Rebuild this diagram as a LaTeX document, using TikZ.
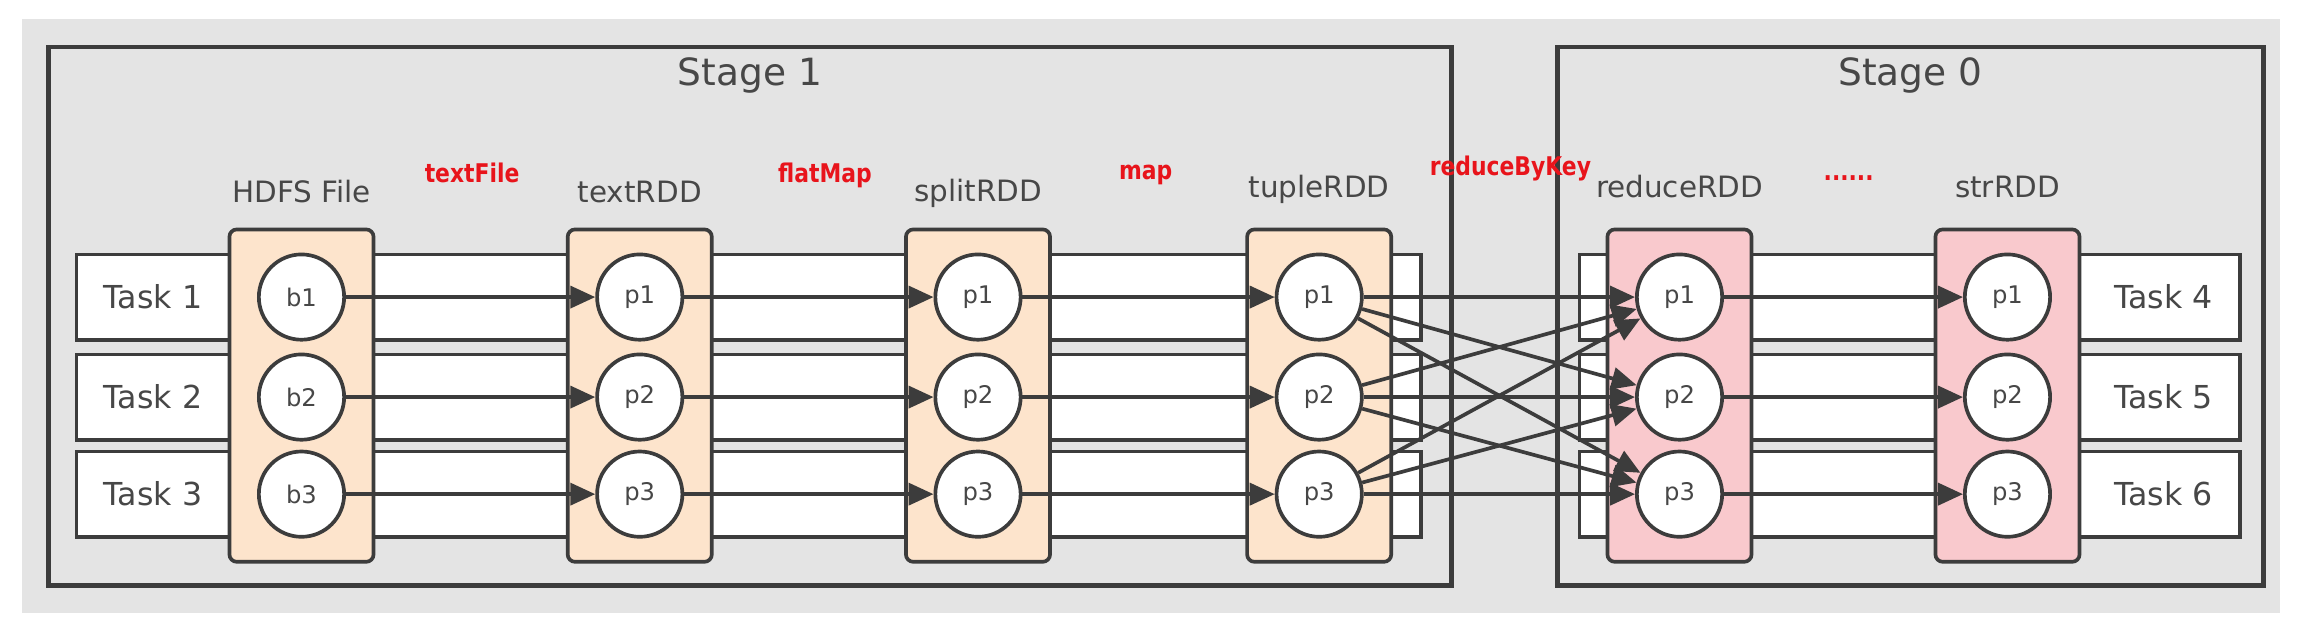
\documentclass[tikz,border=0pt]{standalone}
\usepackage{fontspec}
\setmainfont{DejaVu Sans}
\newfontfamily\opfont[FakeStretch=0.85]{DejaVu Sans Bold}
\usetikzlibrary{arrows.meta}
\definecolor{bggray}{HTML}{E4E4E4}
\definecolor{edge}{HTML}{3C3C3C}
\definecolor{txt}{HTML}{474747}
\definecolor{peach}{HTML}{FDE4CC}
\definecolor{pinkf}{HTML}{F9C9CD}
\definecolor{redlab}{HTML}{E8141B}
\begin{document}
\begin{tikzpicture}[x=1pt,y=-1pt,
  stagebox/.style={draw=edge,line width=3pt,fill=bggray,inner sep=0pt},
  taskrow/.style={draw=edge,line width=2.5pt,fill=white,inner sep=0pt,minimum height=58pt},
  rddbox/.style={draw=edge,line width=2.5pt,rounded corners=5pt,inner sep=0pt,minimum width=98pt,minimum height=226pt},
  part/.style={circle,draw=edge,line width=2.5pt,fill=white,minimum size=58pt,inner sep=0pt,font=\fontsize{16.5}{18}\selectfont,text=txt},
  flow/.style={draw=edge,line width=2.5pt,-{Triangle[length=17pt,width=15pt]}},
  stagelab/.style={font=\fontsize{25.5}{30}\selectfont,text=txt,anchor=base,inner sep=0pt},
  tasklab/.style={font=\fontsize{21.5}{26}\selectfont,text=txt,inner sep=0pt},
  rddlab/.style={font=\fontsize{20}{24}\selectfont,text=txt,anchor=base,inner sep=0pt},
  oplab/.style={font=\opfont\fontsize{17.5}{20}\selectfont,text=redlab,anchor=base,inner sep=0pt}
]
\useasboundingbox (0,0) rectangle (1568,434);
\fill[bggray] (15,13) rectangle (1550,417);

% stages
\node[stagebox,minimum width=954pt,minimum height=366pt] (st1) at (510,215) {};
\node[stagebox,minimum width=480pt,minimum height=366pt] (st0) at (1299,215) {};
\node[stagelab] (st1lab) at (510,58) {Stage 1};
\node[stagelab] (st0lab) at (1299,58) {Stage 0};

% task rows
\foreach \r/\y in {1/202,2/270,3/336}{
  \node[taskrow,minimum width=914pt] (rowA\r) at (509,\y) {};
  \node[taskrow,minimum width=449pt] (rowB\r) at (1298.5,\y) {};
}
\node[tasklab] (t1) at (104,202) {Task 1};
\node[tasklab] (t2) at (104,270) {Task 2};
\node[tasklab] (t3) at (104,336) {Task 3};
\node[tasklab] (t4) at (1471,202) {Task 4};
\node[tasklab] (t5) at (1471,270) {Task 5};
\node[tasklab] (t6) at (1471,336) {Task 6};

% rdd boxes
\node[rddbox,fill=peach] (hdfs) at (205,269) {};
\node[rddbox,fill=peach] (text) at (435,269) {};
\node[rddbox,fill=peach] (split) at (665,269) {};
\node[rddbox,fill=peach] (tuple) at (897,269) {};
\node[rddbox,fill=pinkf] (reduce) at (1142,269) {};
\node[rddbox,fill=pinkf] (str) at (1365,269) {};

% rdd labels
\node[rddlab] (lhdfs) at (205,138) {HDFS File};
\node[rddlab] (ltext) at (435,138) {textRDD};
\node[rddlab] (lsplit) at (665,137) {splitRDD};
\node[rddlab] (ltuple) at (897,134) {tupleRDD};
\node[rddlab] (lreduce) at (1142,134) {reduceRDD};
\node[rddlab] (lstr) at (1365,134) {strRDD};

% operation labels
\node[oplab] (otf) at (321,124) {textFile};
\node[oplab] (ofm) at (561,124) {flatMap};
\node[oplab] (omap) at (779,122) {map};
\node[oplab] (orbk) at (1027,119) {reduceByKey};
\node[oplab] (odots) at (1257,123) {......};

% partitions
\foreach \r/\y in {1/202,2/270,3/336}{
  \node[part] (b\r) at (205,\y) {b\r};
  \node[part] (x\r) at (435,\y) {p\r};
  \node[part] (s\r) at (665,\y) {p\r};
  \node[part] (u\r) at (897,\y) {p\r};
  \node[part] (d\r) at (1142,\y) {p\r};
  \node[part] (g\r) at (1365,\y) {p\r};
}

% narrow dependencies
\foreach \r in {1,2,3}{
  \draw[flow] (b\r) -- (x\r);
  \draw[flow] (x\r) -- (s\r);
  \draw[flow] (s\r) -- (u\r);
  \draw[flow] (d\r) -- (g\r);
}
% shuffle
\foreach \i in {1,2,3}{
  \foreach \j in {1,2,3}{
    \draw[flow] (u\i) -- (d\j);
  }
}
\end{tikzpicture}
\end{document}
